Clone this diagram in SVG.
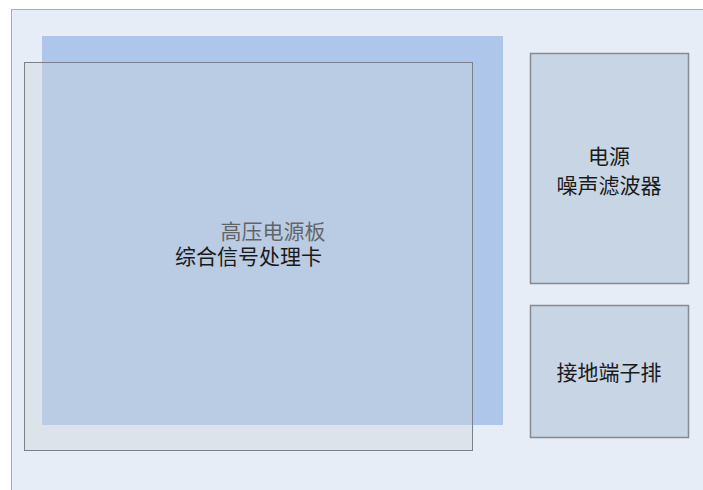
<svg xmlns="http://www.w3.org/2000/svg" width="703" height="490" viewBox="0 0 703 490">
<style>
text{font-family:"Liberation Sans","Noto Sans CJK SC",sans-serif;font-size:21px;text-anchor:middle;dominant-baseline:central;fill:#1a1a1a}
.side{fill:#c8d5e4;stroke:#868b92;stroke-width:1.5}
</style>
<rect x="0" y="0" width="703" height="490" fill="#ffffff"/>
<g id="frame"><rect x="11.5" y="9.5" width="720" height="500" fill="#e6edf7" stroke="#a9adb2" stroke-width="1"/></g>
<g id="hv-board">
<rect x="42" y="36" width="461" height="389" fill="#adc6ea"/>
<text x="273" y="231">高压电源板</text>
</g>
<g id="signal-card">
<rect x="24.5" y="62.5" width="448" height="388" fill="#cdd4d9" fill-opacity="0.4" stroke="#7c8087" stroke-width="1"/>
<text x="248.5" y="256">综合信号处理卡</text>
</g>
<g id="filter">
<rect class="side" x="530.5" y="53.5" width="158" height="230"/>
<text x="609" y="156">电源</text>
<text x="609" y="185">噪声滤波器</text>
</g>
<g id="ground">
<rect class="side" x="530.5" y="305.5" width="158" height="132"/>
<text x="609" y="372">接地端子排</text>
</g>
<g id="connectors"></g>
</svg>
